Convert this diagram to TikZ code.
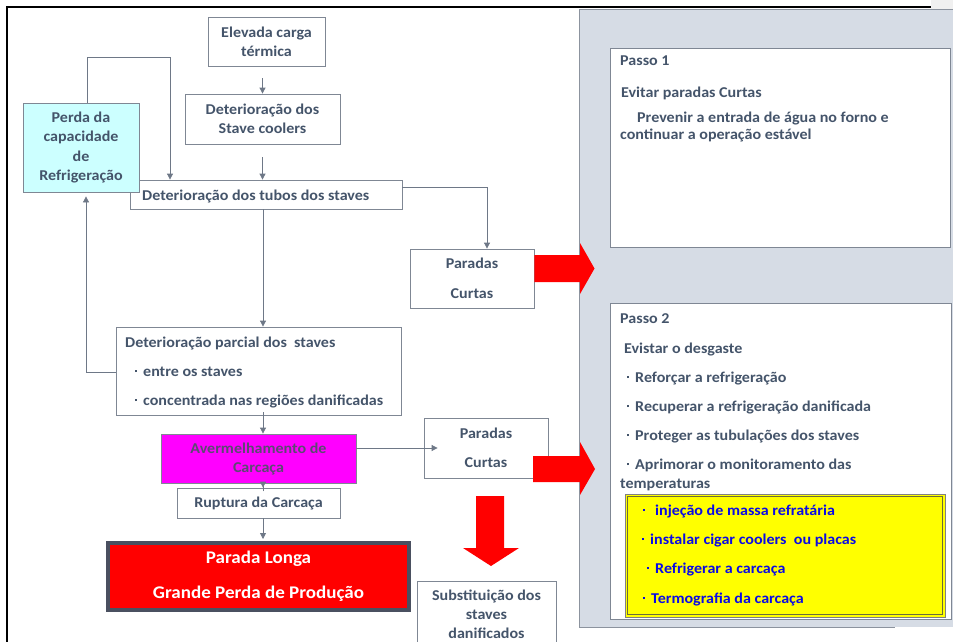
\documentclass[tikz,border=0pt]{standalone}
\usepackage{fontspec}
\setmainfont{Carlito}[FakeStretch=1.07]
\usetikzlibrary{arrows.meta}
\definecolor{txt}{HTML}{44546A}
\definecolor{edge}{HTML}{7F8794}
\definecolor{linec}{HTML}{6E7887}
\definecolor{panelc}{HTML}{D6DCE5}
\definecolor{paneledge}{HTML}{8C939E}
\definecolor{cyanbox}{HTML}{CCFFFF}
\definecolor{magbox}{HTML}{FF00FF}
\definecolor{magtxt}{HTML}{5B4A72}
\definecolor{redc}{HTML}{FF0000}
\definecolor{darkframe}{HTML}{4A5060}
\definecolor{bluetxt}{HTML}{0A0AE6}
\definecolor{yelc}{HTML}{FFFF00}
\definecolor{olive}{HTML}{6B6B3A}
\newcommand{\bul}{\raisebox{0.55ex}{\rule{2pt}{2pt}}}
\begin{document}
\begin{tikzpicture}[x=1pt,y=-1pt,
  box/.style={draw=edge, line width=0.8pt, fill=white, inner sep=0pt, font=\fontsize{15}{19}\selectfont\bfseries, text=txt, align=center},
  lbl/.style={inner sep=0pt, anchor=base west, font=\fontsize{15}{17}\selectfont\bfseries, text=txt},
  ylbl/.style={lbl, text=bluetxt},
  conn/.style={draw=linec, line width=0.8pt},
  arr/.style={conn, -{Triangle[length=6pt,width=6pt]}},
  bigarrow/.style={fill=redc, draw=none}
  ]
\useasboundingbox (0,0) rectangle (953,642);
\clip (0,0) rectangle (953,642);
% frame
\fill[black!6] (931,0) rectangle (953,10);
\draw[line width=2.5pt] (7,645) -- (7,7) -- (931,7);
% right panel
\fill[panelc] (579,10) rectangle (960,627);
\draw[paneledge, line width=1pt] (960,10) -- (579,10) -- (579,627) -- (895,627);
\node[box, minimum width=340, minimum height=199] (p1) at (780,147.5) {};
\node[box, minimum width=341, minimum height=316] (p2) at (780.5,461) {};
\node[lbl] (p1a) at (620,66) {Passo 1};
\node[lbl] (p1b) at (621,97) {Evitar paradas Curtas};
\node[lbl] (p1c) at (637,122) {Prevenir a entrada de água no forno e};
\node[lbl] (p1d) at (620,139.5) {continuar a operação estável};
\node[lbl] (p2a) at (620,323) {Passo 2};
\node[lbl] (p2b) at (624,353) {Evistar o desgaste};
\node[lbl] (p2c) at (627,382) {\bul\hspace{6pt}Reforçar a refrigeração};
\node[lbl] (p2d) at (627,411) {\bul\hspace{6pt}Recuperar a refrigeração danificada};
\node[lbl] (p2e) at (627,440) {\bul\hspace{6pt}Proteger as tubulações dos staves};
\node[lbl] (p2f) at (627,469) {\bul\hspace{6pt}Aprimorar o monitoramento das};
\node[lbl] (p2g) at (620,488) {temperaturas};
% yellow box
\draw[gray, line width=0.8pt, fill=yelc] (625,494) rectangle (945,617);
\draw[olive, line width=1pt] (627.5,496.5) rectangle (942.5,614.5);
\node[ylbl] (y1) at (643,515) {\bul\hspace{10pt}injeção de massa refratária};
\node[ylbl] (y2) at (642,544) {\bul\hspace{6pt}instalar cigar coolers\ \ ou placas};
\node[ylbl] (y3) at (647,573) {\bul\hspace{6pt}Refrigerar a carcaça};
\node[ylbl] (y4) at (643,603) {\bul\hspace{6pt}Termografia da carcaça};
% left flow
\coordinate (spine) at (263,0);
\node[box, minimum width=117, minimum height=49] (elev) at (266.5,41.5) {Elevada carga\\térmica};
\node[box, minimum width=155, minimum height=50] (stc) at (262.5,119) {Deterioração dos\\Stave coolers};
\node[box, minimum width=272, minimum height=29] (tubos) at (266,194.5) {};
\node[lbl] (tubost) at (142,200) {Deterioração dos tubos dos staves};
\node[box, fill=cyanbox, minimum width=116, minimum height=89, font=\fontsize{15}{19.5}\selectfont\bfseries] (perda) at (81,147.5) {Perda da\\capacidade\\de\\Refrigeração};
\node[box, minimum width=124, minimum height=59, font=\fontsize{15}{30}\selectfont\bfseries] (pc1) at (472,278.5) {Paradas\\Curtas};
\node[box, minimum width=285, minimum height=88] (parcial) at (258.5,371) {};
\node[lbl] (parc1) at (125,347) {Deterioração parcial dos\ \ staves};
\node[lbl] (parc2) at (135,376) {\bul\hspace{6pt}entre os staves};
\node[lbl] (parc3) at (135,405) {\bul\hspace{6pt}concentrada nas regiões danificadas};
\node[box, fill=magbox, text=magtxt, minimum width=195, minimum height=49] (mag) at (258.5,458.5) {Avermelhamento de\\Carcaça};
\node[box, minimum width=124, minimum height=60, font=\fontsize{15}{29}\selectfont\bfseries] (pc2) at (486,448) {Paradas\\Curtas};
\node[box, minimum width=163, minimum height=30] (rup) at (258.5,503) {Ruptura da Carcaça};
\node[box, draw=darkframe, line width=4pt, fill=redc, text=white, minimum width=301, minimum height=67, font=\fontsize{17.8}{35}\selectfont\bfseries] (longa) at (258.5,576.5) {Parada Longa\\Grande Perda de Produção};
\node[box, minimum width=139, minimum height=80] (subs) at (486.5,621) {};
\node[inner sep=0pt, align=center, text=txt, font=\fontsize{15}{19}\selectfont\bfseries, anchor=base] (subst) at (486.5,638) {Substituição dos\\staves\\danificados};
% connectors
\draw[arr, shorten <=12pt] (elev.south -| stc.north) -- (stc.north);
\draw[arr, shorten <=13pt] (stc.south) -- (stc.south |- tubos.north);
\coordinate (lp) at (170,57);
\draw[arr] ([xshift=6pt]perda.north) |- (lp) -- (lp |- tubos.north);
\draw[arr] ([yshift=7.5pt]tubos.east) -| ([xshift=15pt]pc1.north);
\draw[arr] (tubos.south -| spine) -- (parcial.north -| spine);
\draw[arr, shorten >=4pt] ([yshift=-1pt]parcial.west) -| ([xshift=5pt]perda.south);
\draw[arr, shorten <=-3pt] (parcial.south -| spine) -- (mag.north -| spine);
\draw[arr, shorten >=-14pt] (mag.east |- pc2.west) -- (pc2.west);
\draw[arr, shorten <=-8pt] (mag.south -| spine) -- (rup.north -| spine);
\draw[arr] (rup.south -| spine) -- ([yshift=2pt]longa.north -| spine);
% big red arrows
\fill[bigarrow] (pc1.east |- 0,255) -- (580,255) -- (580,243) -- (594.5,268.5) -- (580,294) -- (580,282) -- (pc1.east |- 0,282) -- cycle;
\fill[bigarrow] (533,456) -- (580,456) -- (580,442) -- (595,469) -- (580,495) -- (580,482) -- (533,482) -- cycle;
\fill[bigarrow] (476,496) -- (504,496) -- (504,548) -- (519,548) -- (491,566) -- (463,548) -- (476,548) -- cycle;
\end{tikzpicture}
\end{document}
